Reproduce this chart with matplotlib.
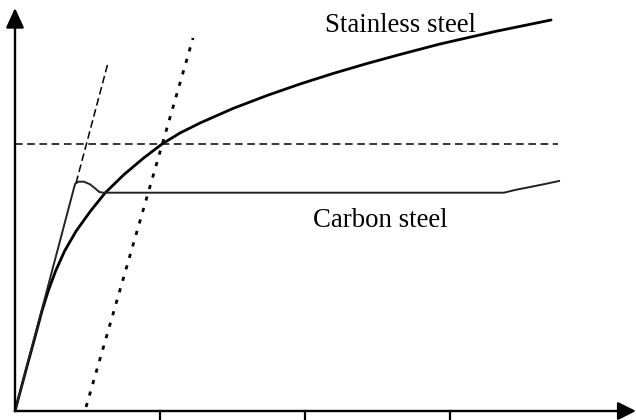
import matplotlib
matplotlib.use("Agg")
import matplotlib.pyplot as plt

# Data (strain units: tick spacing = 1; stress in arbitrary units)
stainless_x = [0.0, 0.076, 0.138, 0.186, 0.229, 0.280, 0.342, 0.422, 0.521, 0.621,
               0.752, 0.883, 1.014, 1.138, 1.276, 1.503, 1.738, 1.966, 2.193,
               2.428, 2.655, 2.931, 3.310, 3.697]
stainless_y = [0.0, 0.41, 0.74, 1.00, 1.20, 1.40, 1.60, 1.80, 2.00, 2.18,
               2.365, 2.525, 2.67, 2.78, 2.88, 3.025, 3.155, 3.27, 3.375,
               3.475, 3.565, 3.67, 3.795, 3.91]

carbon_x = [0.0, 0.414, 0.437, 0.476, 0.517, 0.552, 0.581, 0.609,
            3.372, 3.448, 3.552, 3.655, 3.752]
carbon_y = [0.0, 2.27, 2.293, 2.293, 2.267, 2.227, 2.19, 2.183,
            2.183, 2.21, 2.24, 2.27, 2.30]

elastic_x = [0.421, 0.641]
elastic_y = [2.28, 3.48]

offset_x = [0.490, 1.228]
offset_y = [0.04, 3.73]

proof_stress = 2.67
proof_xmax = 3.745

tick_positions = [1, 2, 3]
labels = {"stainless": "Stainless steel", "carbon": "Carbon steel"}

fig = plt.figure(figsize=(6.36, 4.20), dpi=100)
ax = fig.add_axes([0, 0, 1, 1])
ax.set_xlim(-15/145, 621/145)
ax.set_ylim(-0.09, 4.11)
ax.axis('off')

# curves
ax.plot(stainless_x, stainless_y, color='black', lw=2.0,
        solid_joinstyle='round', solid_capstyle='round')
ax.plot(carbon_x, carbon_y, color='#222222', lw=1.4, solid_joinstyle='round')
ax.plot(elastic_x, elastic_y, color='black', lw=1.1, dashes=(5, 2.5))
ax.plot(offset_x, offset_y, color='black', lw=2.0, dashes=(1.5, 2.8))
ax.plot([0, proof_xmax], [proof_stress, proof_stress], color='black', lw=1.1, dashes=(5, 3))

# axes with arrows
ax.annotate('', xy=(621/145, 0), xytext=(0, 0),
            arrowprops=dict(arrowstyle='-|>,head_length=1.1,head_width=0.55',
                            mutation_scale=10, lw=1.7, color='black',
                            shrinkA=0, shrinkB=0))
ax.annotate('', xy=(0, 4.03), xytext=(0, 0),
            arrowprops=dict(arrowstyle='-|>,head_length=1.2,head_width=0.55',
                            mutation_scale=10, lw=1.7, color='black',
                            shrinkA=0, shrinkB=0))
for t in tick_positions:
    ax.plot([t, t], [0, -0.08], color='black', lw=1.6)

ax.text(2.655, 3.79, labels["stainless"], ha='center', va='baseline',
        fontsize=19.3, family='Liberation Serif')
ax.text(2.521, 1.84, labels["carbon"], ha='center', va='baseline',
        fontsize=19.3, family='Liberation Serif')

fig.savefig('out.png', dpi=100)
